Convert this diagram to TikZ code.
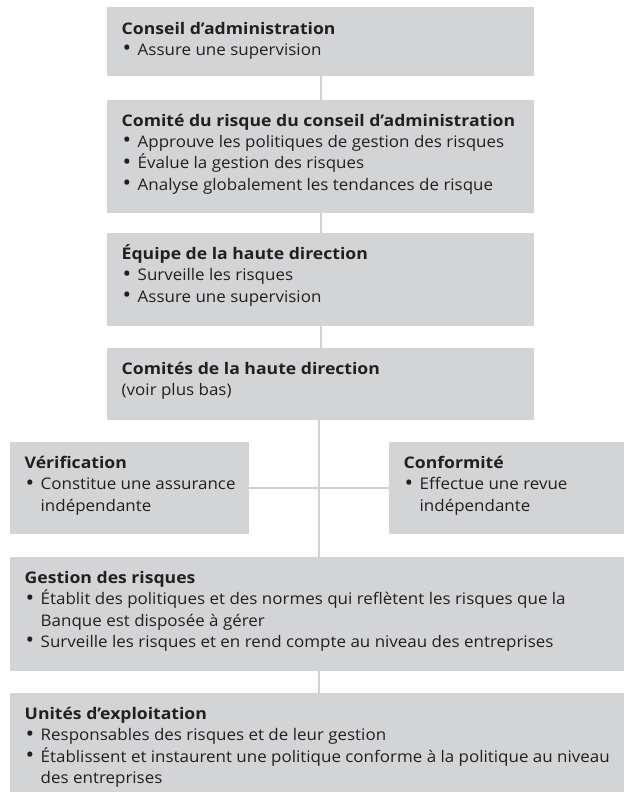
\documentclass[tikz,border=0pt]{standalone}
\usepackage{fontspec}
\setmainfont{Open Sans}[UprightFeatures={FakeStretch=1.06}, BoldFeatures={FakeStretch=1.1}]
\usepackage{tikz}
\usetikzlibrary{calc}

\definecolor{boxgray}{HTML}{D3D4D6}
\definecolor{linegray}{HTML}{D0D1D3}
\definecolor{inkdark}{HTML}{231F20}

\newcommand{\bul}{\makebox[16pt][l]{\hspace{1pt}\raisebox{-0.4pt}{\scalebox{1.35}{\textbullet}}}}
\newcommand{\ind}{\hspace*{16pt}}
\newcommand{\topstrut}{\rule{0pt}{17pt}}

\tikzset{
  riskbox/.style={fill=boxgray, draw=none, inner sep=0pt, outer sep=0pt, anchor=north west},
  boxtext/.style={anchor=north west, align=left, inner sep=0pt, text=inkdark,
    font=\fontsize{16}{21.4}\selectfont},
  link/.style={draw=linegray, line width=2pt}
}

\begin{document}
\begin{tikzpicture}[x=1pt, y=-1pt]
                \useasboundingbox (0,0) rectangle (624,802);

                    % boxes
                    \node[riskbox, minimum width=427, minimum height=69] (conseil) at (107,7) {};
                    \node[riskbox, minimum width=427, minimum height=113] (comite) at (107,100) {};
                    \node[riskbox, minimum width=427, minimum height=93] (equipe) at (107,233) {};
                    \node[riskbox, minimum width=427, minimum height=72] (comites) at (107,348) {};
                    \node[riskbox, minimum width=239, minimum height=92] (verif) at (10,442) {};
                    \node[riskbox, minimum width=235, minimum height=92] (conform) at (389,442) {};
                    \node[riskbox, minimum width=614, minimum height=114] (gestion) at (10,557) {};
                    \node[riskbox, minimum width=614, minimum height=99] (unites) at (10,693) {};

                    % connectors
                    \draw[link] (conseil.south) -- (comite.north);
                    \draw[link] (comite.south) -- (equipe.north);
                    \draw[link] (equipe.south) -- (comites.north);
                    \draw[link] ($(comites.south)+(-2,0)$) coordinate (spine) -- (spine |- gestion.north);
                    \draw[link] (verif.east) -- (conform.west);
                    \draw[link] (spine |- gestion.south) -- (spine |- unites.north);

                    % texts (first baseline 27pt below the box top)
                    \node[boxtext] (tconseil) at ([shift={(14.5,10)}]conseil.north west)
                        {\topstrut\textbf{Conseil d’administration}\\ \bul Assure une supervision};
                    \node[boxtext] (tcomite) at ([shift={(14.5,9)}]comite.north west)
                        {\topstrut\textbf{Comité du risque du conseil d’administration}\\
                         \bul Approuve les politiques de gestion des risques\\
                         \bul Évalue la gestion des risques\\
                         \bul Analyse globalement les tendances de risque};
                    \node[boxtext] (tequipe) at ([shift={(14.5,9)}]equipe.north west)
                        {\topstrut\textbf{Équipe de la haute direction}\\ \bul Surveille les risques\\ \bul Assure une supervision};
                    \node[boxtext] (tcomites) at ([shift={(14.5,9)}]comites.north west)
                        {\topstrut\textbf{Comités de la haute direction}\\ (voir plus bas)};
                    \node[boxtext] (tverif) at ([shift={(14.5,9)}]verif.north west)
                        {\topstrut\textbf{Vérification}\\ \bul Constitue une assurance\\ \ind indépendante};
                    \node[boxtext] (tconform) at ([shift={(14.5,9)}]conform.north west)
                        {\topstrut\textbf{Conformité}\\ \bul Effectue une revue\\ \ind indépendante};
                    \node[boxtext] (tgestion) at ([shift={(14.5,9)}]gestion.north west)
                        {\topstrut\textbf{Gestion des risques}\\
                         \bul Établit des politiques et des normes qui reflètent les risques que la\\
                         \ind Banque est disposée à gérer\\
                         \bul Surveille les risques et en rend compte au niveau des entreprises};
                    \node[boxtext] (tunites) at ([shift={(14.5,9)}]unites.north west)
                        {\topstrut\textbf{Unités d’exploitation}\\
                         \bul Responsables des risques et de leur gestion\\
                         \bul Établissent et instaurent une politique conforme à la politique au niveau\\
                         \ind des entreprises};

                \end{tikzpicture}
\end{document}
